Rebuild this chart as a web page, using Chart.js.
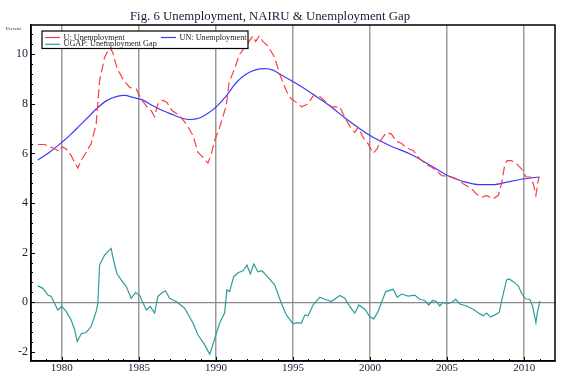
<!DOCTYPE html>
<html>
<head>
<meta charset="utf-8">
<script src="https://cdn.jsdelivr.net/npm/chart.js@4"></script>
<style>
  body { margin: 0; background: #fff; }
  canvas { display: block; }
</style>
</head>
<body>
<canvas id="chart" width="580" height="386"></canvas>
<script>
// Séries (ano decimal -> percentual)
const uYears = [1978.44, 1978.88, 1979.42, 1979.85, 1980.0, 1980.28, 1980.6, 1980.83, 1981.04, 1981.26, 1981.58, 1981.9,
  1982.23, 1982.45, 1982.77, 1983.1, 1983.31, 1983.57, 1983.96, 1984.4, 1984.83, 1985.15, 1985.58, 1985.8, 1986.02,
  1986.23, 1986.56, 1986.82, 1987.17, 1987.65, 1988.08, 1988.51, 1988.83, 1989.15, 1989.48, 1989.7, 1989.92, 1990.24,
  1990.67, 1990.85, 1991.15, 1991.54, 1991.86, 1992.19, 1992.4, 1992.58, 1992.8, 1993.06, 1993.38, 1993.81, 1994.14,
  1994.57, 1994.9, 1995.22, 1995.55, 1995.98, 1996.3, 1996.63, 1997.06, 1997.5, 1998.03, 1998.36, 1998.79, 1999.01,
  1999.22, 1999.55, 1999.88, 2000.2, 2000.45, 2000.74, 2001.06, 2001.39, 2001.71, 2002.04, 2002.36, 2002.79, 2003.23,
  2003.66, 2003.98, 2004.31, 2004.63, 2005.02, 2005.39, 2005.71, 2006.04, 2006.58, 2006.91, 2007.3, 2007.56, 2007.99,
  2008.32, 2008.53, 2008.75, 2008.9, 2009.18, 2009.51, 2009.83, 2010.11, 2010.41, 2010.59, 2010.76, 2010.91, 2010.98];
const uValues = [6.36, 6.36, 6.22, 6.09, 6.28, 6.18, 5.92, 5.65, 5.41, 5.72, 6.05, 6.39,
  7.19, 8.93, 9.87, 10.27, 10.07, 9.46, 9.0, 8.66, 8.6, 8.19, 7.83, 7.72, 7.48,
  7.99, 8.15, 8.06, 7.72, 7.52, 7.19, 6.72, 6.05, 5.85, 5.61, 5.98, 6.52, 7.05,
  7.93, 8.86, 9.33, 10.0, 10.27, 10.56, 10.73, 10.51, 10.73, 10.51, 10.33, 9.87, 9.19,
  8.52, 8.19, 8.06, 7.88, 7.99, 8.32, 8.36, 8.12, 7.88, 7.88, 7.45, 6.98, 6.85,
  7.05, 6.65, 6.38, 6.01, 6.18, 6.58, 6.85, 6.78, 6.49, 6.41, 6.22, 6.12, 5.78,
  5.55, 5.45, 5.31, 5.11, 5.07, 5.04, 4.94, 4.78, 4.58, 4.35, 4.24, 4.31, 4.17,
  4.31, 4.78, 5.58, 5.71, 5.71, 5.58, 5.38, 5.05, 5.05, 4.78, 4.31, 4.91, 5.05];

const unYears = [1978.44, 1979.2, 1980.0, 1980.5, 1981.15, 1981.8, 1982.23, 1982.88, 1983.53, 1984.07, 1984.61, 1985.26,
  1985.91, 1986.56, 1987.21, 1987.86, 1988.29, 1988.94, 1989.48, 1990.02, 1990.67, 1991.32, 1991.97, 1992.62,
  1993.16, 1993.7, 1994.14, 1995.0, 1996.3, 1997.38, 1998.46, 2000.0, 2001.27, 2002.79, 2004.09, 2005.02,
  2006.04, 2007.12, 2007.99, 2008.85, 2009.72, 2010.98];
const unValues = [5.74, 6.05, 6.45, 6.72, 7.12, 7.52, 7.79, 8.12, 8.29, 8.34, 8.26, 8.15,
  7.92, 7.72, 7.56, 7.41, 7.37, 7.43, 7.62, 7.88, 8.32, 8.86, 9.2, 9.38,
  9.42, 9.36, 9.2, 8.9, 8.39, 7.92, 7.39, 6.72, 6.32, 5.92, 5.45, 5.11,
  4.87, 4.74, 4.74, 4.84, 4.95, 5.05];

const gapYears = [1978.44, 1978.77, 1979.1, 1979.31, 1979.74, 1980.0, 1980.28, 1980.6, 1980.83, 1981.0, 1981.26, 1981.58,
  1981.9, 1982.23, 1982.34, 1982.45, 1982.77, 1983.2, 1983.31, 1983.57, 1983.85, 1984.18, 1984.5, 1984.79, 1985.04,
  1985.48, 1985.74, 1986.02, 1986.23, 1986.45, 1986.73, 1986.99, 1987.42, 1987.97, 1988.51, 1988.83, 1989.26, 1989.6,
  1989.9, 1990.24, 1990.56, 1990.71, 1990.89, 1991.15, 1991.43, 1991.76, 1992.01, 1992.23, 1992.45, 1992.73, 1992.99,
  1993.38, 1993.81, 1994.25, 1994.57, 1995.0, 1995.33, 1995.55, 1995.77, 1995.98, 1996.3, 1996.74, 1997.06, 1997.5,
  1998.03, 1998.36, 1998.68, 1999.01, 1999.27, 1999.66, 1999.98, 2000.24, 2000.52, 2000.74, 2001.02, 2001.5, 2001.76,
  2002.04, 2002.47, 2002.9, 2003.23, 2003.55, 2003.81, 2004.05, 2004.31, 2004.52, 2004.74, 2004.96, 2005.28, 2005.56,
  2005.82, 2006.26, 2006.69, 2007.13, 2007.35, 2007.56, 2007.82, 2008.1, 2008.38, 2008.6, 2008.86, 2009.03, 2009.29,
  2009.62, 2009.83, 2010.11, 2010.37, 2010.55, 2010.76, 2010.85, 2011.02];
const gapValues = [0.66, 0.56, 0.29, 0.23, -0.31, -0.17, -0.37, -0.71, -1.11, -1.58, -1.27, -1.22,
  -0.98, -0.37, -0.04, 1.5, 1.9, 2.17, 1.83, 1.16, 0.9, 0.63, 0.16, 0.39, 0.29,
  -0.31, -0.17, -0.44, 0.23, 0.36, 0.46, 0.16, 0.03, -0.24, -0.84, -1.31, -1.71, -2.1,
  -1.51, -0.84, -0.44, 0.5, 0.43, 1.03, 1.19, 1.27, 1.5, 1.14, 1.54, 1.23, 1.27,
  1.0, 0.7, -0.05, -0.51, -0.87, -0.82, -0.84, -0.51, -0.55, -0.11, 0.2, 0.12, 0.03,
  0.27, 0.16, -0.17, -0.44, -0.11, -0.28, -0.58, -0.68, -0.37, -0.01, 0.43, 0.52, 0.2,
  0.33, 0.25, 0.29, 0.12, 0.07, -0.11, 0.07, 0.03, -0.15, 0.0, -0.07, -0.01, 0.12,
  -0.07, -0.15, -0.28, -0.47, -0.55, -0.44, -0.6, -0.51, -0.41, 0.23, 0.9, 0.94, 0.83,
  0.66, 0.36, 0.13, 0.12, -0.17, -0.82, -0.44, 0.05];

const xTicks = [1980, 1985, 1990, 1995, 2000, 2005, 2010];
const yTicks = [-2, 0, 2, 4, 6, 8, 10];

const toPoints = (xs, ys) => xs.map((x, i) => ({ x, y: ys[i] }));
const serif = '"Liberation Serif", "DejaVu Serif", serif';

// Moldura, marcas internas, título e legenda no estilo do gráfico original
const framePlugin = {
  id: 'frame',
  afterDraw(chart) {
    const { ctx, chartArea: a, scales: { x, y } } = chart;
    ctx.save();
    ctx.strokeStyle = '#000';
    ctx.lineWidth = 1;
    ctx.beginPath();
    for (let v = -2; v <= 10.81; v += 0.4) {
      const py = Math.round(y.getPixelForValue(v)) + 0.5;
      const major = Math.abs(v / 2 - Math.round(v / 2)) < 0.01;
      ctx.moveTo(a.left, py);
      ctx.lineTo(a.left + (major ? 4 : 2), py);
    }
    for (let yr = 1979; yr <= 2011; yr++) {
      const px = Math.round(x.getPixelForValue(yr)) + 0.5;
      ctx.moveTo(px, a.bottom);
      ctx.lineTo(px, a.bottom - (yr % 5 === 0 ? 4 : 2));
    }
    ctx.stroke();
    ctx.lineWidth = 1.5;
    ctx.strokeRect(a.left, a.top, a.right - a.left, a.bottom - a.top);

    ctx.fillStyle = '#1a1a3a';
    ctx.font = '12.8px ' + serif;
    ctx.textAlign = 'center';
    ctx.textBaseline = 'middle';
    ctx.fillText('Fig. 6 Unemployment, NAIRU & Unemployment Gap', 270, 16.5);
    ctx.font = '5px ' + serif;
    ctx.textAlign = 'left';
    ctx.fillText('Percent', 6, 29);

    // legenda (caixa branca sobre a grade)
    ctx.fillStyle = '#fff';
    ctx.fillRect(42, 31, 206, 17.5);
    ctx.strokeStyle = '#000';
    ctx.lineWidth = 1.2;
    ctx.strokeRect(42, 31, 206, 17.5);
    const items = [
      [chart.data.datasets[0], 45, 37.5],
      [chart.data.datasets[1], 161, 37.5],
      [chart.data.datasets[2], 45, 44.3]
    ];
    ctx.font = '8.2px ' + serif;
    items.forEach(([ds, lx, ly]) => {
      ctx.strokeStyle = ds.borderColor;
      ctx.lineWidth = 1.2;
      ctx.beginPath();
      ctx.moveTo(lx, ly);
      ctx.lineTo(lx + 15, ly);
      ctx.stroke();
      ctx.fillStyle = '#222';
      ctx.fillText(ds.label, lx + 18.5, ly);
    });
    ctx.restore();
  }
};

const chart = new Chart(document.getElementById('chart'), {
  type: 'line',
  data: {
    datasets: [
      {
        label: 'U: Unemployment',
        data: toPoints(uYears, uValues),
        borderColor: '#ff3b3b',
        borderWidth: 1.2,
        borderDash: [9, 4],
        pointRadius: 0,
        tension: 0
      },
      {
        label: 'UN: Unemployment',
        data: toPoints(unYears, unValues),
        borderColor: '#3a3aff',
        borderWidth: 1.2,
        pointRadius: 0,
        cubicInterpolationMode: 'monotone'
      },
      {
        label: 'UGAP: Unemployment Gap',
        data: toPoints(gapYears, gapValues),
        borderColor: '#2f9c9c',
        borderWidth: 1.2,
        pointRadius: 0,
        tension: 0
      }
    ]
  },
  options: {
    responsive: false,
    animation: false,
    layout: { padding: { top: 25, right: 25, left: 0, bottom: 0 } },
    plugins: {
      legend: { display: false },
      title: { display: false },
      tooltip: { enabled: false }
    },
    scales: {
      x: {
        type: 'linear',
        min: 1978,
        max: 2012,
        afterBuildTicks: (s) => { s.ticks = xTicks.map(v => ({ value: v })); },
        afterFit: (s) => { s.height = 25; },
        grid: { color: '#9a9a9a', lineWidth: 1.5, drawTicks: false },
        border: { color: '#000', width: 1.5 },
        ticks: {
          padding: 1,
          color: '#1a1a3a',
          font: { family: serif, size: 11 },
          maxRotation: 0,
          callback: (v) => String(v)
        }
      },
      y: {
        min: -2.37,
        max: 11.18,
        afterBuildTicks: (s) => { s.ticks = yTicks.map(v => ({ value: v })); },
        afterFit: (s) => { s.width = 31; },
        grid: {
          color: (c) => (c.tick && c.tick.value === 0 ? '#888' : 'rgba(0,0,0,0)'),
          lineWidth: 1.2,
          drawTicks: false
        },
        border: { color: '#000', width: 1.5 },
        ticks: {
          padding: 3,
          color: '#1a1a3a',
          font: { family: serif, size: 12 }
        }
      }
    }
  },
  plugins: [framePlugin]
});
</script>
</body>
</html>
